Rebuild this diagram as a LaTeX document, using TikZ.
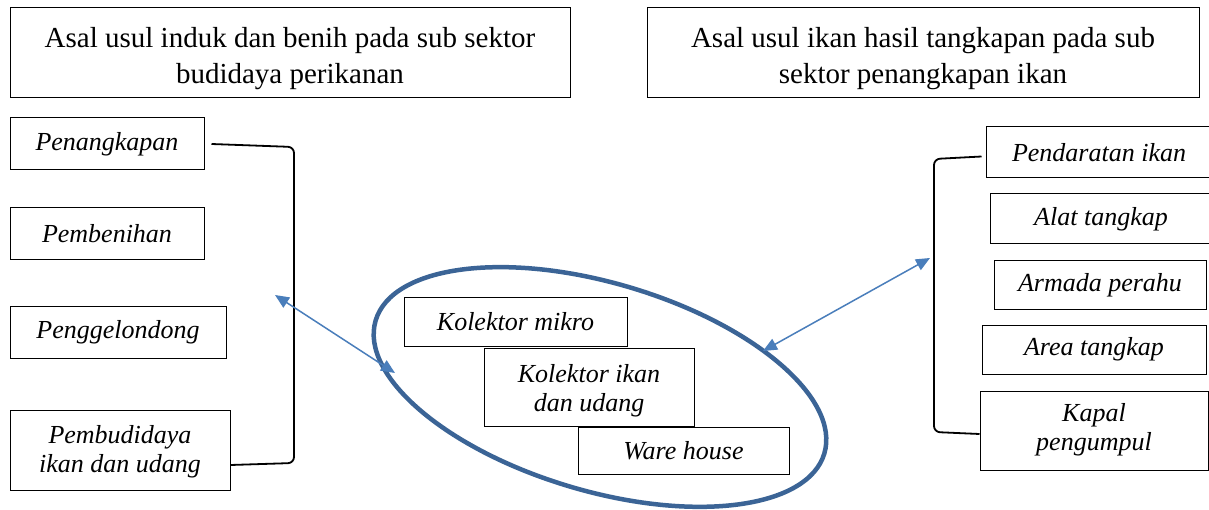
\documentclass[tikz,border=0pt]{standalone}
\usepackage{fontspec}
\setmainfont{Liberation Serif}[ItalicFont=Liberation Serif Italic]
\usetikzlibrary{arrows.meta}
\definecolor{ellblue}{HTML}{3B6496}
\definecolor{arrblue}{HTML}{4A7EBB}
\newcommand{\twolines}[3]{\raisebox{#1}[\height][\depth]{\begin{tabular}{@{}c@{}}#2\\#3\end{tabular}}}
\begin{document}
\begin{tikzpicture}[x=1pt,y=-1pt,
  box/.style={draw, line width=1pt, inner sep=0pt, align=center, fill=white},
  titlebox/.style={box, font=\fontsize{29}{36}\selectfont},
  itembox/.style={box, font=\fontsize{26}{29}\selectfont\itshape},
  bracket/.style={draw, line width=1.8pt, rounded corners=6pt},
  link/.style={draw=arrblue, line width=1.5pt, {Triangle[length=14pt,width=12pt]}-{Triangle[length=14pt,width=12pt]}},
  ring/.style={draw=ellblue, line width=4.5pt},
]
\useasboundingbox (0,0) rectangle (1209,510);
\clip (0,0) rectangle (1209,510);
\fill[white] (0,0) rectangle (1209,510);

% titles
\node[titlebox, minimum width=560, minimum height=90] (t1) at (290,53)
  {\twolines{-5pt}{Asal usul induk dan benih pada sub sektor}{budidaya perikanan}};
\node[titlebox, minimum width=552, minimum height=90] (t2) at (923,53)
  {\twolines{-5pt}{Asal usul ikan hasil tangkapan pada sub}{sektor penangkapan ikan}};

% left column
\node[itembox, minimum width=194, minimum height=52] (l1) at (107,144) {Penangkapan};
\node[itembox, minimum width=194, minimum height=52] (l2) at (107,234) {Pembenihan};
\node[itembox, minimum width=216, minimum height=51] (l3) at (118,332.5) {Penggelondong};
\node[itembox, minimum width=220, minimum height=80] (l4) at (120,450) {\twolines{-2pt}{Pembudidaya}{ikan dan udang}};

% middle
\coordinate (ec) at (600,387);
\node[itembox, minimum width=223, minimum height=48] (m1) at (515.5,322) {Kolektor mikro};
\node[itembox, minimum width=210, minimum height=78] (m2) at (589,387) {\twolines{-4pt}{Kolektor ikan}{dan udang}};
\node[itembox, minimum width=211, minimum height=47] (m3) at (683.5,450.5) {Ware house};
\draw[ring, rotate around={-16.5:(ec)}] (ec) ellipse [x radius=234, y radius=104];

% right column
\node[itembox, minimum width=226, minimum height=51] (r1) at (1099,152.5) {Pendaratan ikan};
\node[itembox, minimum width=222, minimum height=50] (r2) at (1101,219) {Alat tangkap};
\node[itembox, minimum width=212, minimum height=49] (r3) at (1100,285.5) {Armada perahu};
\node[itembox, minimum width=224, minimum height=49] (r4) at (1094,349.5) {Area tangkap};
\node[itembox, minimum width=228, minimum height=79] (r5) at (1094,430.5) {\twolines{0pt}{Kapal}{pengumpul}};

% brackets
\coordinate (lb1) at (294,147);
\coordinate (lb2) at (294,463);
\draw[bracket] ([xshift=7pt]l1.east) -- (lb1) -- (lb2) -- ([yshift=-15pt]l4.east);
\coordinate (rb1) at (934,159);
\coordinate (rb2) at (934,432);
\draw[bracket] ([xshift=-4pt,yshift=-4pt]r1.west) -- (rb1) -- (rb2) -- ([yshift=-3.5pt]r5.west);

% links
\coordinate (la) at (275,295);
\coordinate (lz) at (395,373);
\coordinate (ra) at (930,258);
\coordinate (rz) at (763,351);
\draw[link] (la) -- (lz);
\draw[link] (rz) -- (ra);
\end{tikzpicture}
\end{document}
